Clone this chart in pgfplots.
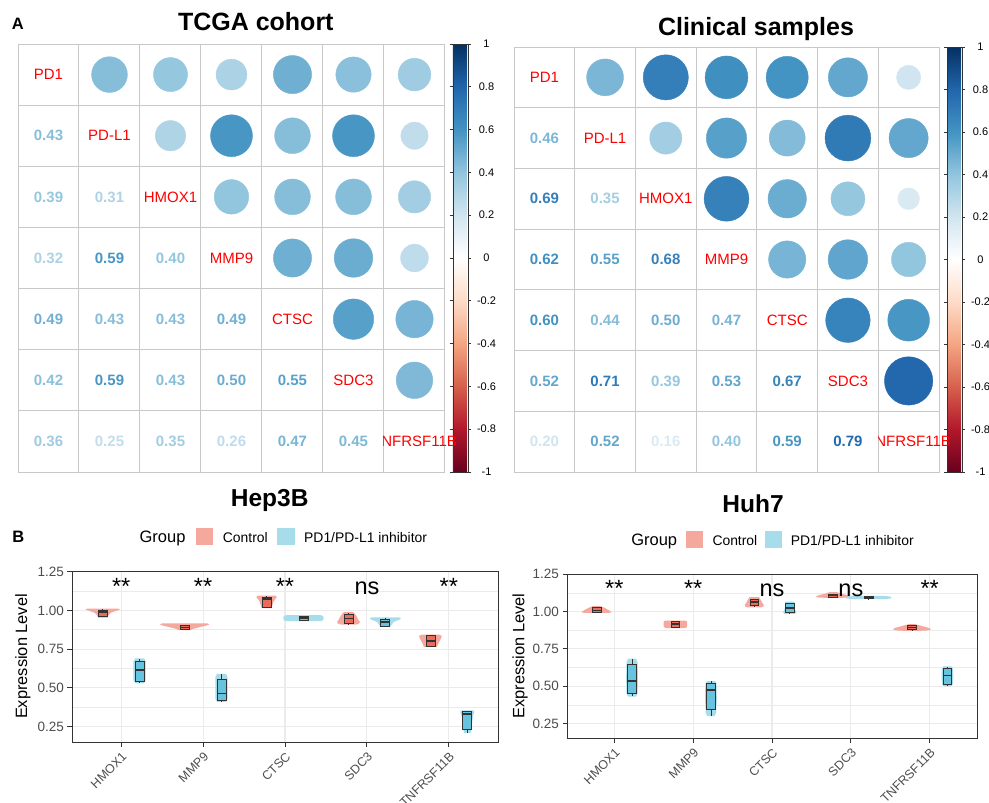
\documentclass[border=0pt]{standalone}
\usepackage{pgfplots}
\pgfplotsset{compat=1.18}
\usepackage{pgfplotstable}
\usepgfplotslibrary{statistics}
\usepackage{fontspec}
\setmainfont{Liberation Sans}
\newcommand{\fs}[1]{\fontsize{#1bp}{#1bp}\selectfont}
\definecolor{cellgray}{RGB}{200,200,200}
\definecolor{ctrlv}{RGB}{245,168,158}
\definecolor{inhv}{RGB}{167,220,235}
\definecolor{ctrlb}{RGB}{236,106,92}
\definecolor{inhb}{RGB}{104,196,222}
\definecolor{bord}{RGB}{51,51,51}
\definecolor{gridg}{RGB}{235,235,235}
\definecolor{tickg}{RGB}{77,77,77}
\definecolor{lab}{RGB}{255,0,0}
\pgfplotsset{colormap={rdbu}{rgb255=(103,0,31) rgb255=(178,24,43) rgb255=(214,96,77) rgb255=(244,165,130) rgb255=(253,219,199) rgb255=(255,255,255) rgb255=(209,229,240) rgb255=(146,197,222) rgb255=(67,147,195) rgb255=(33,102,172) rgb255=(5,48,97)}}

\pgfplotstableread{
col row r
1 2 0.43
1 3 0.39
2 3 0.31
1 4 0.32
2 4 0.59
3 4 0.40
1 5 0.49
2 5 0.43
3 5 0.43
4 5 0.49
1 6 0.42
2 6 0.59
3 6 0.43
4 6 0.50
5 6 0.55
1 7 0.36
2 7 0.25
3 7 0.35
4 7 0.26
5 7 0.47
6 7 0.45
}\tcga
\pgfplotstableread{
col row r
1 2 0.46
1 3 0.69
2 3 0.35
1 4 0.62
2 4 0.55
3 4 0.68
1 5 0.60
2 5 0.44
3 5 0.50
4 5 0.47
1 6 0.52
2 6 0.71
3 6 0.39
4 6 0.53
5 6 0.67
1 7 0.20
2 7 0.52
3 7 0.16
4 7 0.40
5 7 0.59
6 7 0.79
}\clin

\tikzset{
diag/.style={text=lab, font=\fs{15}, inner sep=0pt},
sig/.style={font=\fs{23.5}, anchor=base, inner sep=0pt},
}
\pgfplotsset{
corr/.style={scale only axis, xmin=0.5, xmax=7.5, ymin=0.5, ymax=7.5, y dir=reverse,
  xtick={1.5,2.5,3.5,4.5,5.5,6.5}, ytick={1.5,2.5,3.5,4.5,5.5,6.5},
  xticklabels={{},{},{},{},{},{}}, yticklabels={{},{},{},{},{},{}}, major tick length=0pt,
  grid=major, grid style={cellgray, line width=1bp}, axis line style={cellgray, line width=1bp},
  colormap name=rdbu, point meta min=-1, point meta max=1,
  /pgf/number format/assume math mode=true,
  colorbar, colorbar shift/.style={xshift=8bp},
  colorbar style={at={(parent axis.north east)}, anchor=north west, width=15bp,
    ytick={-1,-0.8,-0.6,-0.4,-0.2,0,0.2,0.4,0.6,0.8,1},
    yticklabels={{-1},{-0.8},{-0.6},{-0.4},{-0.2},{0},{0.2},{0.4},{0.6},{0.8},{1}},
    yticklabel style={font=\fs{11}, anchor=center, xshift=15.5bp},
    major tick length=3bp, tick align=outside,
    axis line style={bord, line width=0.8bp}, ytick style={bord, line width=0.8bp}},
},
circ/.style={scatter, only marks, mark=*, point meta=explicit,
  scatter/use mapped color={draw=mapped color, fill=mapped color},
  visualization depends on={sqrt(\thisrow{r})*#1 \as \rad},
  scatter/@pre marker code/.append style={/tikz/mark size=\rad}},
nums/.style={scatter, only marks, mark=*, mark size=0pt, point meta=explicit,
  scatter/use mapped color={draw=none, fill=none},
  nodes near coords={\pgfplotscolormapdefinemappedcolor{\pgfplotspointmetatransformed}\textcolor{mapped color}{\pgfmathprintnumber[fixed, fixed zerofill, precision=2]{\pgfplotspointmeta}}},
  every node near coord/.append style={font=\bfseries\fs{15}, anchor=center, inner sep=0pt}},
bx/.style={scale only axis, xmin=0.4, xmax=5.6, xtick={1,2,3,4,5},
  xticklabels={HMOX1,MMP9,CTSC,SDC3,TNFRSF11B},
  ytick={0.25,0.5,0.75,1,1.25}, yticklabels={0.25,0.50,0.75,1.00,1.25},
  minor ytick={0.375,0.625,0.875,1.125},
  xmajorgrids, ymajorgrids, yminorgrids,
  major grid style={gridg, line width=1.1bp}, minor grid style={gridg, line width=0.55bp},
  axis line style={bord, line width=1bp}, major tick length=4.5bp, minor tick length=0pt,
  tick align=outside, tick pos=left, tick style={bord, line width=1bp},
  ticklabel style={font=\fs{13.5}, text=tickg},
  xticklabel style={rotate=45, anchor=north east, font=\fs{12.5}},
  ylabel={Expression Level}, ylabel style={font=\fs{16.4}, anchor=center},
  boxplot/draw direction=y,
  boxplot/box extend=0.11, boxplot/whisker extend=0,
  boxplot/every median/.style={line width=1.6bp},
},
vc/.style={fill=ctrlv, draw=none},
vi/.style={fill=inhv, draw=none},
bc/.style={draw=bord, fill=ctrlb, line width=0.8bp, solid},
bi/.style={draw=bord, fill=inhb, line width=0.8bp, solid},
}

\begin{document}
\begin{tikzpicture}
\path[use as bounding box] (0bp,0bp) rectangle (989bp,-803bp);

% ---------------- TCGA ----------------
\begin{axis}[corr, at={(18bp,-44bp)}, anchor=north west, width=427bp, height=428bp]
\addplot[circ=27.4] table[x=row, y=col, meta=r] {\tcga};
\addplot[nums] table[x=col, y=row, meta=r] {\tcga};
\node[diag] at (axis cs:1,1) {PD1};
\node[diag] at (axis cs:2,2) {PD-L1};
\node[diag] at (axis cs:3,3) {HMOX1};
\node[diag] at (axis cs:4,4) {MMP9};
\node[diag] at (axis cs:5,5) {CTSC};
\node[diag] at (axis cs:6,6) {SDC3};
\end{axis}

% ---------------- Clinical ----------------
\begin{axis}[corr, at={(514bp,-47bp)}, anchor=north west, width=425bp, height=425bp]
\addplot[circ=27.3] table[x=row, y=col, meta=r] {\clin};
\addplot[nums] table[x=col, y=row, meta=r] {\clin};
\node[diag] at (axis cs:1,1) {PD1};
\node[diag] at (axis cs:2,2) {PD-L1};
\node[diag] at (axis cs:3,3) {HMOX1};
\node[diag] at (axis cs:4,4) {MMP9};
\node[diag] at (axis cs:5,5) {CTSC};
\node[diag] at (axis cs:6,6) {SDC3};
\end{axis}

% ---------------- Hep3B ----------------
\begin{axis}[bx, at={(72bp,-571bp)}, anchor=north west, width=426bp, height=171bp,
  ymin=0.151, ymax=1.254, ylabel style={at={(axis description cs:-0.115,0.5)}}]
\addplot[vc] coordinates {(0.965,1.011)(0.985,1.006)(0.945,0.998)(0.875,0.985)(0.845,0.97)(0.835,0.953)(0.715,0.953)(0.705,0.97)(0.675,0.985)(0.605,0.998)(0.565,1.006)(0.585,1.011)};
\addplot[vi] coordinates {(1.28,0.69)(1.30,0.67)(1.30,0.61)(1.30,0.55)(1.28,0.53)(1.17,0.53)(1.15,0.55)(1.15,0.61)(1.15,0.67)(1.17,0.69)};
\addplot[vc] coordinates {(2.055,0.916)(2.075,0.908)(2.025,0.900)(1.945,0.89)(1.875,0.88)(1.845,0.872)(1.705,0.872)(1.675,0.88)(1.605,0.89)(1.525,0.900)(1.475,0.908)(1.495,0.916)};
\addplot[vi] coordinates {(2.28,0.59)(2.30,0.57)(2.30,0.50)(2.30,0.43)(2.28,0.41)(2.17,0.41)(2.15,0.43)(2.15,0.50)(2.15,0.57)(2.17,0.59)};
\addplot[vc] coordinates {(2.885,1.095)(2.9,1.085)(2.875,1.07)(2.855,1.05)(2.845,1.03)(2.835,1.014)(2.715,1.014)(2.705,1.03)(2.695,1.05)(2.675,1.07)(2.65,1.085)(2.665,1.095)};
\addplot[vi] coordinates {(3.425,0.97)(3.46,0.965)(3.47,0.955)(3.47,0.945)(3.46,0.935)(3.425,0.93)(3.025,0.93)(2.99,0.935)(2.98,0.945)(2.98,0.955)(2.99,0.965)(3.025,0.97)};
\addplot[vc] coordinates {(3.825,0.99)(3.85,0.98)(3.875,0.96)(3.895,0.94)(3.915,0.925)(3.895,0.912)(3.855,0.908)(3.695,0.908)(3.655,0.912)(3.635,0.925)(3.655,0.94)(3.675,0.96)(3.70,0.98)(3.725,0.99)};
\addplot[vi] coordinates {(4.395,0.955)(4.415,0.948)(4.395,0.94)(4.325,0.925)(4.305,0.91)(4.285,0.895)(4.165,0.895)(4.145,0.91)(4.125,0.925)(4.055,0.94)(4.035,0.948)(4.055,0.955)};
\addplot[vc] coordinates {(4.885,0.843)(4.915,0.835)(4.905,0.82)(4.885,0.80)(4.865,0.78)(4.855,0.765)(4.695,0.765)(4.685,0.78)(4.665,0.80)(4.645,0.82)(4.635,0.835)(4.665,0.843)};
\addplot[vi] coordinates {(5.305,0.355)(5.31,0.34)(5.295,0.32)(5.285,0.28)(5.275,0.24)(5.265,0.21)(5.185,0.21)(5.175,0.24)(5.165,0.28)(5.155,0.32)(5.14,0.34)(5.145,0.355)};
\addplot[bc, boxplot prepared={draw position=0.775, lower whisker=0.955, lower quartile=0.962, median=0.99, upper quartile=1.003, upper whisker=1.006}] coordinates {};
\addplot[bi, boxplot prepared={draw position=1.225, lower whisker=0.532, lower quartile=0.545, median=0.614, upper quartile=0.670, upper whisker=0.687}] coordinates {};
\addplot[bc, boxplot prepared={draw position=1.775, lower whisker=0.875, lower quartile=0.878, median=0.89, upper quartile=0.905, upper whisker=0.908}] coordinates {};
\addplot[bi, boxplot prepared={draw position=2.225, lower whisker=0.41, lower quartile=0.418, median=0.463, upper quartile=0.556, upper whisker=0.59}] coordinates {};
\addplot[bc, boxplot prepared={draw position=2.775, lower whisker=1.014, lower quartile=1.022, median=1.072, upper quartile=1.085, upper whisker=1.091}] coordinates {};
\addplot[bi, boxplot prepared={draw position=3.225, lower whisker=0.93, lower quartile=0.936, median=0.95, upper quartile=0.963, upper whisker=0.966}] coordinates {};
\addplot[bc, boxplot prepared={draw position=3.775, lower whisker=0.912, lower quartile=0.915, median=0.948, upper quartile=0.975, upper whisker=0.981}] coordinates {};
\addplot[bi, boxplot prepared={draw position=4.225, lower whisker=0.893, lower quartile=0.898, median=0.924, upper quartile=0.945, upper whisker=0.95}] coordinates {};
\addplot[bc, boxplot prepared={draw position=4.775, lower whisker=0.762, lower quartile=0.769, median=0.803, upper quartile=0.837, upper whisker=0.843}] coordinates {};
\addplot[bi, boxplot prepared={draw position=5.225, lower whisker=0.211, lower quartile=0.235, median=0.332, upper quartile=0.347, upper whisker=0.353}] coordinates {};
\node[sig] at (axis cs:1,1.10) {**};
\node[sig] at (axis cs:2,1.10) {**};
\node[sig] at (axis cs:3,1.10) {**};
\node[sig] at (axis cs:4,1.10) {ns};
\node[sig] at (axis cs:5,1.10) {**};
\end{axis}

% ---------------- Huh7 ----------------
\begin{axis}[bx, at={(567bp,-574bp)}, anchor=north west, width=410bp, height=164bp,
  ymin=0.1538, ymax=1.2515, ylabel style={at={(axis description cs:-0.1146,0.5)}}]
\addplot[vc] coordinates {(0.825,1.036)(0.855,1.03)(0.895,1.02)(0.945,1.005)(0.965,0.995)(0.925,0.991)(0.625,0.991)(0.585,0.995)(0.605,1.005)(0.655,1.02)(0.695,1.03)(0.725,1.036)};
\addplot[vi] coordinates {(1.275,0.685)(1.295,0.66)(1.30,0.55)(1.295,0.45)(1.275,0.43)(1.175,0.43)(1.155,0.45)(1.15,0.55)(1.155,0.66)(1.175,0.685)};
\addplot[vc] coordinates {(1.895,0.94)(1.92,0.935)(1.925,0.925)(1.925,0.905)(1.92,0.895)(1.895,0.89)(1.655,0.89)(1.63,0.895)(1.625,0.905)(1.625,0.925)(1.63,0.935)(1.655,0.94)};
\addplot[vi] coordinates {(2.275,0.535)(2.295,0.52)(2.30,0.42)(2.29,0.32)(2.27,0.30)(2.18,0.30)(2.16,0.32)(2.15,0.42)(2.155,0.52)(2.175,0.535)};
\addplot[vc] coordinates {(2.835,1.096)(2.855,1.08)(2.875,1.06)(2.895,1.045)(2.895,1.035)(2.865,1.029)(2.685,1.029)(2.655,1.035)(2.655,1.045)(2.675,1.06)(2.695,1.08)(2.715,1.096)};
\addplot[vi] coordinates {(3.285,1.067)(3.285,1.05)(3.285,1.03)(3.295,1.01)(3.31,0.995)(3.295,0.985)(3.155,0.985)(3.14,0.995)(3.155,1.01)(3.165,1.03)(3.165,1.05)(3.165,1.067)};
\addplot[vc] coordinates {(3.825,1.13)(3.875,1.12)(3.955,1.11)(3.995,1.10)(3.975,1.095)(3.875,1.092)(3.675,1.092)(3.575,1.095)(3.555,1.10)(3.595,1.11)(3.675,1.12)(3.725,1.13)};
\addplot[vi] coordinates {(4.425,1.105)(4.505,1.1)(4.515,1.094)(4.505,1.088)(4.425,1.083)(4.025,1.083)(3.945,1.088)(3.935,1.094)(3.945,1.1)(4.025,1.105)};
\addplot[vc] coordinates {(4.815,0.916)(4.855,0.91)(4.925,0.9)(4.995,0.89)(5.015,0.88)(4.975,0.874)(4.875,0.871)(4.675,0.871)(4.575,0.874)(4.535,0.88)(4.555,0.89)(4.625,0.9)(4.695,0.91)(4.735,0.916)};
\addplot[vi] coordinates {(5.275,0.633)(5.295,0.62)(5.30,0.57)(5.295,0.515)(5.275,0.50)(5.175,0.50)(5.155,0.515)(5.15,0.57)(5.155,0.62)(5.175,0.633)};
\addplot[bc, boxplot prepared={draw position=0.775, lower whisker=0.992, lower quartile=0.995, median=1.008, upper quartile=1.025, upper whisker=1.03}] coordinates {};
\addplot[bi, boxplot prepared={draw position=1.225, lower whisker=0.433, lower quartile=0.454, median=0.534, upper quartile=0.645, upper whisker=0.683}] coordinates {};
\addplot[bc, boxplot prepared={draw position=1.775, lower whisker=0.893, lower quartile=0.896, median=0.915, upper quartile=0.933, upper whisker=0.936}] coordinates {};
\addplot[bi, boxplot prepared={draw position=2.225, lower whisker=0.304, lower quartile=0.342, median=0.474, upper quartile=0.518, upper whisker=0.534}] coordinates {};
\addplot[bc, boxplot prepared={draw position=2.775, lower whisker=1.036, lower quartile=1.04, median=1.063, upper quartile=1.082, upper whisker=1.086}] coordinates {};
\addplot[bi, boxplot prepared={draw position=3.225, lower whisker=0.989, lower quartile=0.992, median=1.022, upper quartile=1.055, upper whisker=1.06}] coordinates {};
\addplot[bc, boxplot prepared={draw position=3.775, lower whisker=1.096, lower quartile=1.098, median=1.108, upper quartile=1.118, upper whisker=1.12}] coordinates {};
\addplot[bi, boxplot prepared={draw position=4.225, lower whisker=1.083, lower quartile=1.085, median=1.093, upper quartile=1.1, upper whisker=1.103}] coordinates {};
\addplot[bc, boxplot prepared={draw position=4.775, lower whisker=0.877, lower quartile=0.879, median=0.893, upper quartile=0.907, upper whisker=0.909}] coordinates {};
\addplot[bi, boxplot prepared={draw position=5.225, lower whisker=0.503, lower quartile=0.511, median=0.571, upper quartile=0.623, upper whisker=0.631}] coordinates {};
\node[sig] at (axis cs:1,1.10) {**};
\node[sig] at (axis cs:2,1.10) {**};
\node[sig] at (axis cs:3,1.10) {ns};
\node[sig] at (axis cs:4,1.10) {ns};
\node[sig] at (axis cs:5,1.10) {**};
\end{axis}

% ---------------- annotations ----------------
\begin{scope}[x=1bp, y=-1bp]
\node[diag] at (414.5,441.4) {TNFRSF11B};
\fill[white] (369.5,426) rectangle (383.2,457);
\node[diag] at (908.6,441.6) {TNFRSF11B};
\fill[white] (863.5,426) rectangle (877.6,457);
\node[anchor=base west, inner sep=0pt, font=\bfseries\fs{16.5}] at (11.7,29.3) {A};
\node[anchor=base west, inner sep=0pt, font=\bfseries\fs{16.5}] at (12.3,542.3) {B};
\node[anchor=base, inner sep=0pt, font=\bfseries\fs{25}] at (255.8,30.7) {TCGA cohort};
\node[anchor=base, inner sep=0pt, font=\bfseries\fs{25}] at (756,35.5) {Clinical samples};
\node[anchor=base, inner sep=0pt, font=\bfseries\fs{24.5}] at (269.7,506.7) {Hep3B};
\node[anchor=base, inner sep=0pt, font=\bfseries\fs{24.5}] at (753,512.3) {Huh7};
\node[anchor=base, inner sep=0pt, font=\fs{16.5}] at (162.5,542) {Group};
\fill[ctrlv] (195.7,527.7) rectangle (213.3,545.3);
\node[anchor=base west, inner sep=0pt, font=\fs{13.9}] at (222.7,542) {Control};
\fill[inhv] (277.3,527.7) rectangle (295,545.3);
\node[anchor=base west, inner sep=0pt, font=\fs{13.9}] at (304,542) {PD1/PD-L1 inhibitor};
\node[anchor=base, inner sep=0pt, font=\fs{16.5}] at (654.2,545.7) {Group};
\fill[ctrlv] (686,531) rectangle (703.3,548.3);
\node[anchor=base west, inner sep=0pt, font=\fs{13.9}] at (712.3,545.7) {Control};
\fill[inhv] (765,531) rectangle (781.5,548.3);
\node[anchor=base west, inner sep=0pt, font=\fs{13.9}] at (790.7,545.7) {PD1/PD-L1 inhibitor};
\end{scope}
\end{tikzpicture}
\end{document}
